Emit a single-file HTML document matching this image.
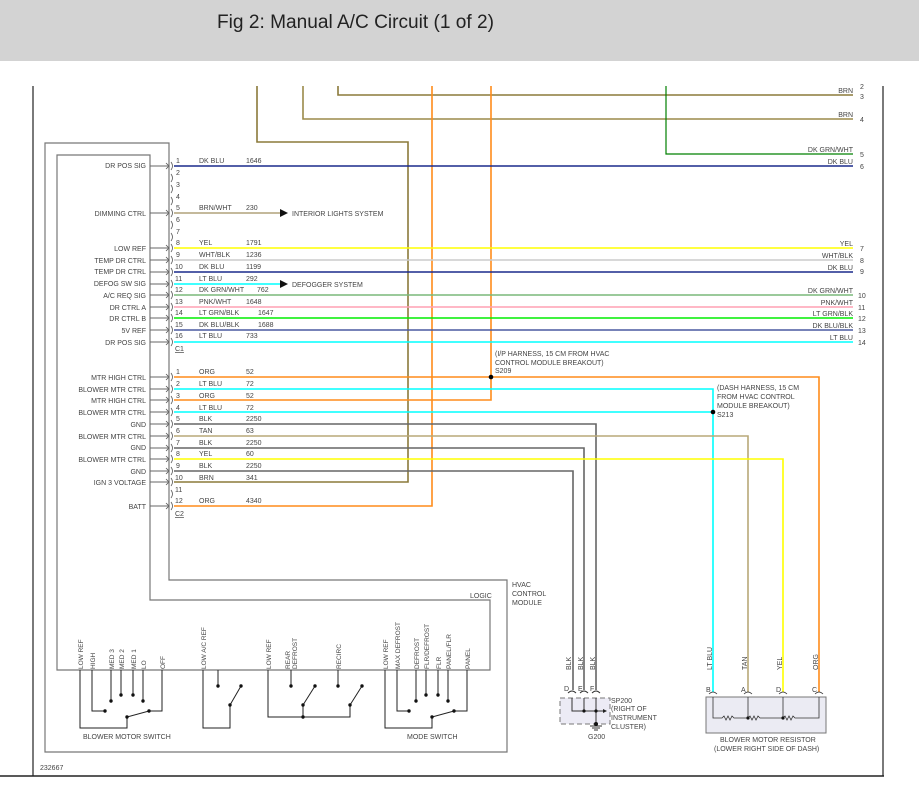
<!DOCTYPE html>
<html><head><meta charset="utf-8"><style>
html,body{margin:0;padding:0;background:#fff;}
svg{display:block;font-family:"Liberation Sans",sans-serif;}
.l{font-size:7px;fill:#444;}
.p{font-size:7px;fill:#3a5aa0;}
.r{text-anchor:end;}
</style></head><body>
<svg width="919" height="804" viewBox="0 0 919 804" xmlns="http://www.w3.org/2000/svg">
<rect x="0" y="0" width="919" height="61" fill="#d3d3d3"/>
<text x="217" y="28" font-size="19" fill="#222" textLength="277" lengthAdjust="spacingAndGlyphs" style="font-family:'Liberation Sans',sans-serif">Fig 2: Manual A/C Circuit (1 of 2)</text>

<g stroke="#222" fill="none" stroke-width="1.2">
<line x1="33" y1="86" x2="33" y2="776"/>
<line x1="883" y1="86" x2="883" y2="776"/>
<line x1="0" y1="776" x2="884" y2="776" stroke-width="1.5"/>
</g>

<g stroke="#777" fill="none" stroke-width="1.2">
<path d="M45,143 H169 V580 H507 V752 H45 Z"/>
<path d="M57,155 H150 V600 H490 V670 H57 Z"/>
</g>

<g fill="none" stroke-width="1.6">
<path d="M338,86 V95 H853" stroke="#8b7a3a"/>
<path d="M303,86 V119 H853" stroke="#9b8a4a"/>
<path d="M666,86 V154 H853" stroke="#008000" stroke-width="1.2"/>
<path d="M257,86 V142 H408 V482 H174" stroke="#8b7a3a"/>
<path d="M432,86 V506 H174" stroke="#ff8c1a"/>
<path d="M491,86 V400 H174" stroke="#ff8c1a"/>
<path d="M174,377 H819 V692" stroke="#ff8c1a"/>
<path d="M174,389 H713 V692" stroke="#00ffff"/>
<path d="M174,412 H713" stroke="#00ffff"/>
<path d="M174,424 H596 V690" stroke="#666"/>
<path d="M174,436 H748 V692" stroke="#b8a878"/>
<path d="M174,448 H584 V690" stroke="#666"/>
<path d="M174,459 H783 V692" stroke="#ffff00"/>
<path d="M174,471 H573 V690" stroke="#666"/>
<line x1="174" y1="166" x2="853" y2="166" stroke="#1a2a8c"/>
<line x1="174" y1="213" x2="280" y2="213" stroke="#b0a27a"/>
<line x1="174" y1="248" x2="853" y2="248" stroke="#ffff00"/>
<line x1="174" y1="260" x2="853" y2="260" stroke="#cccccc"/>
<line x1="174" y1="272" x2="853" y2="272" stroke="#1a2a8c"/>
<line x1="174" y1="284" x2="280" y2="284" stroke="#00ffff"/>
<line x1="174" y1="295" x2="853" y2="295" stroke="#7ab87a"/>
<line x1="174" y1="307" x2="853" y2="307" stroke="#ffa0b4"/>
<line x1="174" y1="318" x2="853" y2="318" stroke="#00ee00"/>
<line x1="174" y1="330" x2="853" y2="330" stroke="#4a5aa0"/>
<line x1="174" y1="342" x2="853" y2="342" stroke="#00ffff"/>
</g>
<polygon points="280,209 288,213 280,217" fill="#111"/>
<polygon points="280,280 288,284 280,288" fill="#111"/>
<text x="292" y="216" class="l">INTERIOR LIGHTS SYSTEM</text>
<text x="292" y="287" class="l">DEFOGGER SYSTEM</text>
<circle cx="491" cy="377" r="2.3" fill="#000"/>
<circle cx="713" cy="412" r="2.3" fill="#000"/>
<text x="495" y="356" class="l">(I/P HARNESS, 15 CM FROM HVAC</text>
<text x="495" y="365" class="l">CONTROL MODULE BREAKOUT)</text>
<text x="495" y="373" class="l">S209</text>
<text x="717" y="390" class="l">(DASH HARNESS, 15 CM</text>
<text x="717" y="399" class="l">FROM HVAC CONTROL</text>
<text x="717" y="408" class="l">MODULE BREAKOUT)</text>
<text x="717" y="417" class="l">S213</text>

<g class="l r">
<text x="853" y="93" class="l r">BRN</text>
<text x="853" y="117" class="l r">BRN</text>
<text x="853" y="152" class="l r">DK GRN/WHT</text>
<text x="853" y="164" class="l r">DK BLU</text>
<text x="853" y="246" class="l r">YEL</text>
<text x="853" y="258" class="l r">WHT/BLK</text>
<text x="853" y="270" class="l r">DK BLU</text>
<text x="853" y="293" class="l r">DK GRN/WHT</text>
<text x="853" y="305" class="l r">PNK/WHT</text>
<text x="853" y="316" class="l r">LT GRN/BLK</text>
<text x="853" y="328" class="l r">DK BLU/BLK</text>
<text x="853" y="340" class="l r">LT BLU</text>
</g>
<g class="l">
<text x="860" y="89" class="l">2</text>
<text x="860" y="99" class="l">3</text>
<text x="860" y="122" class="l">4</text>
<text x="860" y="157" class="l">5</text>
<text x="860" y="169" class="l">6</text>
<text x="860" y="251" class="l">7</text>
<text x="860" y="263" class="l">8</text>
<text x="860" y="274" class="l">9</text>
<text x="858" y="298" class="l">10</text>
<text x="858" y="310" class="l">11</text>
<text x="858" y="321" class="l">12</text>
<text x="858" y="333" class="l">13</text>
<text x="858" y="345" class="l">14</text>
</g>

<g stroke="#666" stroke-width="1" fill="none">
<path d="M150,166h18M150,213h18M150,248h18M150,260h18M150,272h18M150,284h18M150,295h18M150,307h18M150,318h18M150,330h18M150,342h18M150,377h18M150,389h18M150,400h18M150,412h18M150,424h18M150,436h18M150,448h18M150,459h18M150,471h18M150,482h18M150,506h18"/>
</g>
<g stroke="#555" stroke-width="0.8" fill="none">
<path d="M166,163l3,3l-3,3M171,162q3,4 0,8 M171,174q3,4 0,8 M171,185q3,4 0,8 M171,197q3,4 0,8 M166,210l3,3l-3,3M171,209q3,4 0,8 M171,221q3,4 0,8 M171,233q3,4 0,8 M166,245l3,3l-3,3M171,244q3,4 0,8 M166,257l3,3l-3,3M171,256q3,4 0,8 M166,269l3,3l-3,3M171,268q3,4 0,8 M166,281l3,3l-3,3M171,280q3,4 0,8 M166,292l3,3l-3,3M171,291q3,4 0,8 M166,304l3,3l-3,3M171,303q3,4 0,8 M166,315l3,3l-3,3M171,314q3,4 0,8 M166,327l3,3l-3,3M171,326q3,4 0,8 M166,339l3,3l-3,3M171,338q3,4 0,8"/>
<path d="M166,374l3,3l-3,3M171,373q3,4 0,8 M166,386l3,3l-3,3M171,385q3,4 0,8 M166,397l3,3l-3,3M171,396q3,4 0,8 M166,409l3,3l-3,3M171,408q3,4 0,8 M166,421l3,3l-3,3M171,420q3,4 0,8 M166,433l3,3l-3,3M171,432q3,4 0,8 M166,445l3,3l-3,3M171,444q3,4 0,8 M166,456l3,3l-3,3M171,455q3,4 0,8 M166,468l3,3l-3,3M171,467q3,4 0,8 M166,479l3,3l-3,3M171,478q3,4 0,8 M171,490q3,4 0,8 M166,503l3,3l-3,3M171,502q3,4 0,8"/>
</g>
<g class="l">
<text x="146" y="168" class="l r">DR POS SIG</text>
<text x="146" y="216" class="l r">DIMMING CTRL</text>
<text x="146" y="251" class="l r">LOW REF</text>
<text x="146" y="263" class="l r">TEMP DR CTRL</text>
<text x="146" y="274" class="l r">TEMP DR CTRL</text>
<text x="146" y="286" class="l r">DEFOG SW SIG</text>
<text x="146" y="298" class="l r">A/C REQ SIG</text>
<text x="146" y="310" class="l r">DR CTRL A</text>
<text x="146" y="321" class="l r">DR CTRL B</text>
<text x="146" y="333" class="l r">5V REF</text>
<text x="146" y="345" class="l r">DR POS SIG</text>
<text x="146" y="380" class="l r">MTR HIGH CTRL</text>
<text x="146" y="392" class="l r">BLOWER MTR CTRL</text>
<text x="146" y="403" class="l r">MTR HIGH CTRL</text>
<text x="146" y="415" class="l r">BLOWER MTR CTRL</text>
<text x="146" y="427" class="l r">GND</text>
<text x="146" y="439" class="l r">BLOWER MTR CTRL</text>
<text x="146" y="450" class="l r">GND</text>
<text x="146" y="462" class="l r">BLOWER MTR CTRL</text>
<text x="146" y="474" class="l r">GND</text>
<text x="146" y="485" class="l r">IGN 3 VOLTAGE</text>
<text x="146" y="509" class="l r">BATT</text>
</g>
<g class="l">
<text x="176" y="163">1</text><text x="199" y="163">DK BLU</text><text x="246" y="163">1646</text>
<text x="176" y="175">2</text><text x="176" y="187">3</text><text x="176" y="199">4</text>
<text x="176" y="210">5</text><text x="199" y="210">BRN/WHT</text><text x="246" y="210">230</text>
<text x="176" y="222">6</text><text x="176" y="234">7</text>
<text x="176" y="245">8</text><text x="199" y="245">YEL</text><text x="246" y="245">1791</text>
<text x="176" y="257">9</text><text x="199" y="257">WHT/BLK</text><text x="246" y="257">1236</text>
<text x="175" y="269">10</text><text x="199" y="269">DK BLU</text><text x="246" y="269">1199</text>
<text x="175" y="281">11</text><text x="199" y="281">LT BLU</text><text x="246" y="281">292</text>
<text x="175" y="292">12</text><text x="199" y="292">DK GRN/WHT</text><text x="257" y="292">762</text>
<text x="175" y="304">13</text><text x="199" y="304">PNK/WHT</text><text x="246" y="304">1648</text>
<text x="175" y="315">14</text><text x="199" y="315">LT GRN/BLK</text><text x="258" y="315">1647</text>
<text x="175" y="327">15</text><text x="199" y="327">DK BLU/BLK</text><text x="258" y="327">1688</text>
<text x="175" y="338">16</text><text x="199" y="338">LT BLU</text><text x="246" y="338">733</text>
<text x="175" y="351" text-decoration="underline">C1</text>
<text x="176" y="374">1</text><text x="199" y="374">ORG</text><text x="246" y="374">52</text>
<text x="176" y="386">2</text><text x="199" y="386">LT BLU</text><text x="246" y="386">72</text>
<text x="176" y="398">3</text><text x="199" y="398">ORG</text><text x="246" y="398">52</text>
<text x="176" y="410">4</text><text x="199" y="410">LT BLU</text><text x="246" y="410">72</text>
<text x="176" y="421">5</text><text x="199" y="421">BLK</text><text x="246" y="421">2250</text>
<text x="176" y="433">6</text><text x="199" y="433">TAN</text><text x="246" y="433">63</text>
<text x="176" y="445">7</text><text x="199" y="445">BLK</text><text x="246" y="445">2250</text>
<text x="176" y="456">8</text><text x="199" y="456">YEL</text><text x="246" y="456">60</text>
<text x="176" y="468">9</text><text x="199" y="468">BLK</text><text x="246" y="468">2250</text>
<text x="175" y="480">10</text><text x="199" y="480">BRN</text><text x="246" y="480">341</text>
<text x="175" y="492">11</text>
<text x="175" y="503">12</text><text x="199" y="503">ORG</text><text x="246" y="503">4340</text>
<text x="175" y="516" text-decoration="underline">C2</text>
<text x="512" y="587">HVAC</text><text x="512" y="596">CONTROL</text><text x="512" y="605">MODULE</text>
<text x="470" y="598">LOGIC</text>
</g>

<g stroke="#222" stroke-width="1" fill="none">
<path d="M80,670V728H127V717"/>
<path d="M92,670V711H105"/>
<path d="M111,670V701M121,670V695M133,670V695M143,670V701"/>
<path d="M162,670V711H149"/>
<path d="M127,717L149,711"/>
<path d="M203,670V728H230V705L241,686"/>
<path d="M218,670V686"/>
<path d="M268,670V717H350V705L362,686"/>
<path d="M303,717V705L315,686"/>
<path d="M291,670V686M338,670V686"/>
<path d="M385,670V728H432V717L454,711"/>
<path d="M397,670V711H409"/>
<path d="M416,670V701M426,670V695M438,670V695M448,670V701"/>
<path d="M467,670V711H454"/>
</g>
<g fill="#111">
<circle cx="105" cy="711" r="1.7"/><circle cx="111" cy="701" r="1.7"/><circle cx="121" cy="695" r="1.7"/><circle cx="133" cy="695" r="1.7"/><circle cx="143" cy="701" r="1.7"/><circle cx="149" cy="711" r="1.7"/><circle cx="127" cy="717" r="1.7"/>
<circle cx="218" cy="686" r="1.7"/><circle cx="241" cy="686" r="1.7"/><circle cx="230" cy="705" r="1.7"/>
<circle cx="291" cy="686" r="1.7"/><circle cx="315" cy="686" r="1.7"/><circle cx="303" cy="705" r="1.7"/><circle cx="303" cy="717" r="1.7"/>
<circle cx="338" cy="686" r="1.7"/><circle cx="362" cy="686" r="1.7"/><circle cx="350" cy="705" r="1.7"/>
<circle cx="409" cy="711" r="1.7"/><circle cx="416" cy="701" r="1.7"/><circle cx="426" cy="695" r="1.7"/><circle cx="438" cy="695" r="1.7"/><circle cx="448" cy="701" r="1.7"/><circle cx="454" cy="711" r="1.7"/><circle cx="432" cy="717" r="1.7"/>
</g>
<g class="l" style="font-size:6.5px">
<text transform="translate(83,669) rotate(-90)">LOW REF</text>
<text transform="translate(95,669) rotate(-90)">HIGH</text>
<text transform="translate(114,669) rotate(-90)">MED 3</text>
<text transform="translate(124,669) rotate(-90)">MED 2</text>
<text transform="translate(136,669) rotate(-90)">MED 1</text>
<text transform="translate(146,669) rotate(-90)">LO</text>
<text transform="translate(165,669) rotate(-90)">OFF</text>
<text transform="translate(206,669) rotate(-90)">LOW A/C REF</text>
<text transform="translate(271,669) rotate(-90)">LOW REF</text>
<text transform="translate(290,669) rotate(-90)">REAR</text>
<text transform="translate(297,669) rotate(-90)">DEFROST</text>
<text transform="translate(341,669) rotate(-90)">RECIRC</text>
<text transform="translate(388,669) rotate(-90)">LOW REF</text>
<text transform="translate(400,669) rotate(-90)">MAX DEFROST</text>
<text transform="translate(419,669) rotate(-90)">DEFROST</text>
<text transform="translate(429,669) rotate(-90)">FLR/DEFROST</text>
<text transform="translate(441,669) rotate(-90)">FLR</text>
<text transform="translate(451,669) rotate(-90)">PANEL/FLR</text>
<text transform="translate(470,669) rotate(-90)">PANEL</text>
</g>
<text x="83" y="739" class="l">BLOWER MOTOR SWITCH</text>
<text x="407" y="739" class="l">MODE SWITCH</text>
<text x="40" y="770" class="l">232667</text>

<rect x="560" y="698" width="50" height="26" fill="#ecebf5" stroke="#777" stroke-dasharray="5,3"/>
<g stroke="#333" stroke-width="1" fill="none">
<path d="M572,698V711H605M584,698V711M596,698V724"/>
<path d="M568,693q4,-4 8,0M580,693q4,-4 8,0M592,693q4,-4 8,0"/>
<path d="M590,726h12M592,728h8M594,730h4"/>
</g>
<polygon points="603,709 607,711 603,713" fill="#222"/>
<circle cx="584" cy="711" r="1.6" fill="#111"/><circle cx="596" cy="711" r="1.6" fill="#111"/><circle cx="596" cy="724" r="2" fill="#111"/>
<g class="l">
<text x="564" y="691">D</text><text x="578" y="691">E</text><text x="590" y="691">F</text>
<text x="611" y="703">SP200</text><text x="611" y="711">(RIGHT OF</text><text x="611" y="720">INSTRUMENT</text><text x="611" y="729">CLUSTER)</text>
<text x="588" y="739">G200</text>
<text transform="translate(571,670) rotate(-90)">BLK</text>
<text transform="translate(583,670) rotate(-90)">BLK</text>
<text transform="translate(595,670) rotate(-90)">BLK</text>
</g>

<rect x="706" y="697" width="120" height="36" fill="#ebebf3" stroke="#777"/>
<g stroke="#333" stroke-width="0.8" fill="none">
<path d="M713,697V718H722l2,-2l2,4l2,-4l2,4l2,-4l2,2H748l2,-2l2,4l2,-4l2,4l2,-4l2,2H783l2,-2l2,4l2,-4l2,4l2,-4l2,2H819V697"/>
<path d="M748,697V718M783,697V718"/>
<path d="M709,694q4,-4 8,0M744,694q4,-4 8,0M779,694q4,-4 8,0M815,694q4,-4 8,0"/>
</g>
<circle cx="748" cy="718" r="1.6" fill="#111"/><circle cx="783" cy="718" r="1.6" fill="#111"/>
<g class="l">
<text x="706" y="692">B</text><text x="741" y="692">A</text><text x="776" y="692">D</text><text x="812" y="692">C</text>
<text transform="translate(712,670) rotate(-90)">LT BLU</text>
<text transform="translate(747,670) rotate(-90)">TAN</text>
<text transform="translate(782,670) rotate(-90)">YEL</text>
<text transform="translate(818,670) rotate(-90)">ORG</text>
<text x="720" y="742">BLOWER MOTOR RESISTOR</text>
<text x="714" y="751">(LOWER RIGHT SIDE OF DASH)</text>
</g>
</svg>
</body></html>
